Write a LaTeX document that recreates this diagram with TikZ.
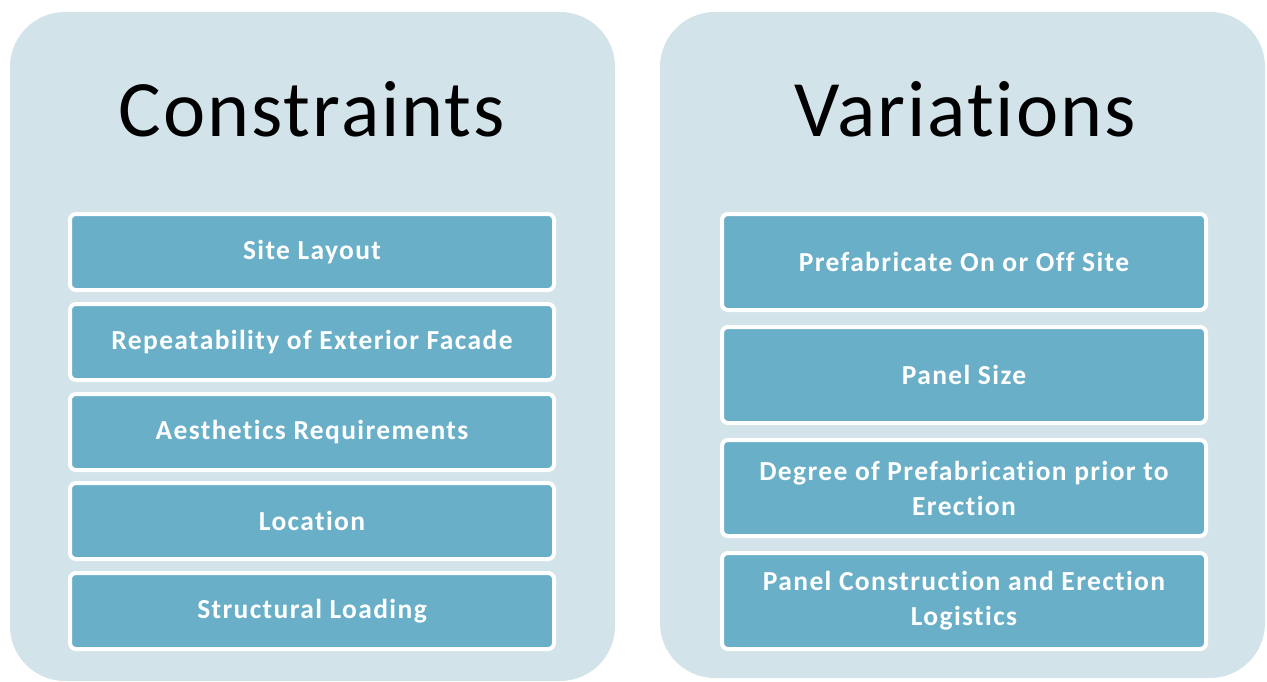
\documentclass[tikz,border=0pt]{standalone}
\usepackage{fontspec}
\setmainfont{Carlito}[Ligatures=NoCommon]
\newfontfamily\headfont{Carlito}[Ligatures=NoCommon, LetterSpace=2.5]
\newfontfamily\itemfont{Carlito}[Ligatures=NoCommon, LetterSpace=5]
\usepackage{tikz}
\definecolor{panelbg}{RGB}{211,227,234}
\definecolor{itemfill}{RGB}{106,175,200}

\begin{document}
\begin{tikzpicture}[x=1pt, y=-1pt,
		panel/.style={fill=panelbg, rounded corners=55pt},
		heading/.style={anchor=base, font=\headfont\fontsize{80}{90}\selectfont},
		item/.style={draw=white, line width=4pt, fill=itemfill, rounded corners=6pt,
			text=white, align=center, inner sep=0pt,
			font=\itemfont\fontsize{27.5}{35}\selectfont\bfseries}]
	\useasboundingbox (0,0) rectangle (1267,681);
	\fill[panel] (10,12) rectangle (615,681);
	\fill[panel] (660,12) rectangle (1265,678);
	\node[heading] (ctitle) at (312,136) {Constraints};
	\node[heading] (vtitle) at (965,136) {Variations};
	\foreach \i/\y/\t in {1/252/{Site Layout}, 2/342/{Repeatability of Exterior Facade},
			3/432/{Aesthetics Requirements}, 4/521/{Location}, 5/611/{Structural Loading}}
		\node[item, minimum width=484pt, minimum height=76pt] (c\i) at (312,\y) {\t};
	\foreach \i/\y/\t in {1/262/{Prefabricate On or Off Site}, 2/375/{Panel Size},
			3/488/{Degree of Prefabrication prior to\\Erection},
			4/601/{Panel Construction and Erection\\Logistics}}
		\node[item, minimum width=484pt, minimum height=96pt] (v\i) at (964,\y) {\t};
\end{tikzpicture}
\end{document}
